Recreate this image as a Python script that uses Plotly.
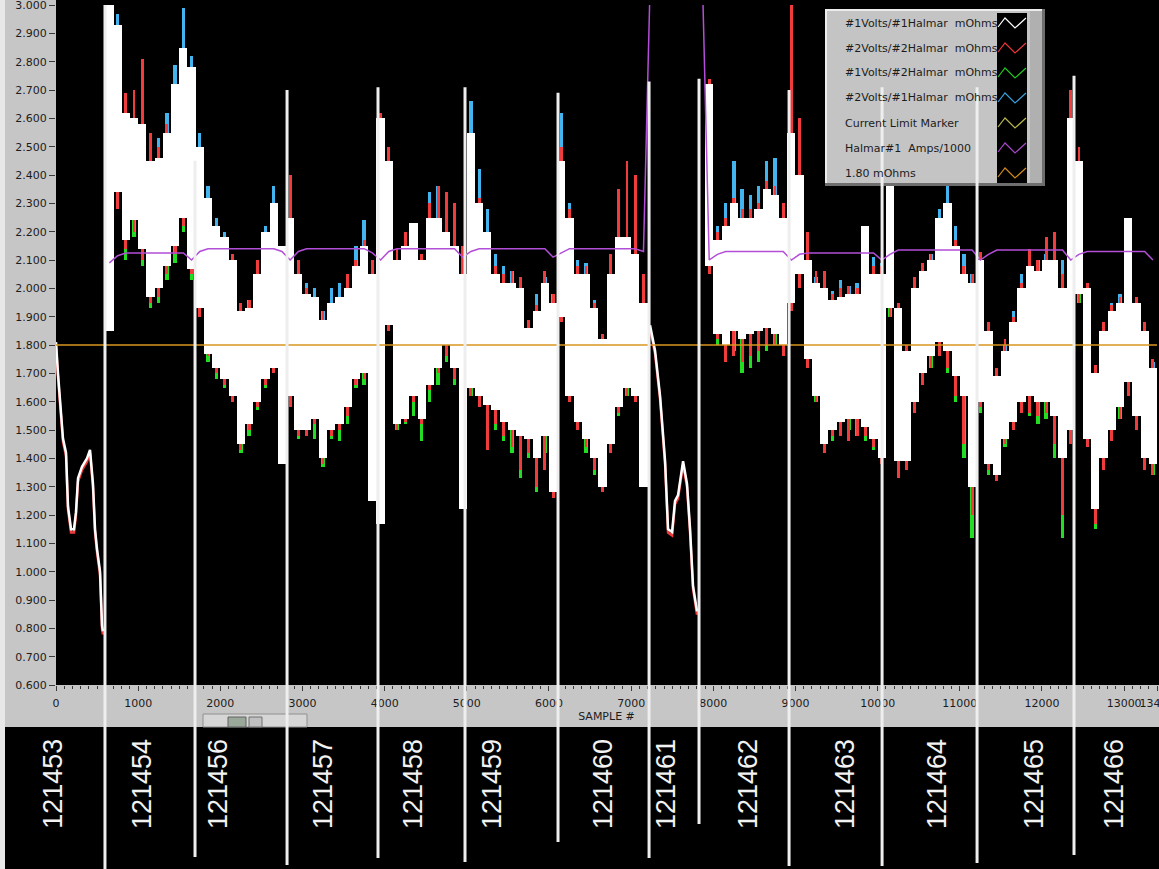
import plotly.graph_objects as go

# ---------------- data ----------------
# noisy parts: one low/high value per 100-sample bin (None = drawn as a plain line instead)
BIN = 100
N_BINS = 134
sample_centers = [BIN * i + BIN / 2 for i in range(N_BINS)]

_ = None
white_lo = [_, _, _, _, _, _, 1.85, 2.34, 2.17, 2.24, 2.14, 1.97, 2.00, 2.08, 2.15, 2.25, 2.07,
            1.93, 1.77, 1.72, 1.68, 1.62, 1.45, 1.52, 1.60, 1.68, 1.72, 1.38,
            1.62, 1.50, 1.50, 1.54, 1.40, 1.50, 1.52, 1.58, 1.68, 1.70, 1.25, 1.17,
            1.87, 1.52, 1.54, 1.62, 1.54, 1.66, 1.72, 1.80, 1.72, 1.22,
            1.65, 1.62, 1.59, 1.57, 1.53, 1.50, 1.48, 1.47, 1.40, 1.48, 1.28,
            1.90, 1.62, 1.53, 1.47, 1.40, 1.30, 1.45, 1.58, 1.65, 1.62, 1.30,
            _, _, _, _, _, _, _,
            2.08, 1.84, 1.80, 1.85, 1.82, 1.84, 1.85, 1.86, 1.84, 1.80, 1.95,
            2.05, 1.75, 1.62, 1.45, 1.50, 1.53, 1.54, 1.54, 1.51, 1.47, 1.40,
            1.93, 1.39, 1.39, 1.60, 1.70, 1.76, 1.81, 1.78, 1.69, 1.62, 1.30, 1.60,
            1.38, 1.34, 1.47, 1.53, 1.60, 1.62, 1.60, 1.60, 1.55, 1.40, 1.50,
            1.98, 1.47, 1.22, 1.40, 1.50, 1.58, 1.67, 1.55, 1.40, 1.38]
white_hi = [_, _, _, _, _, _, 3.00, 2.93, 2.62, 2.60, 2.58, 2.45, 2.46, 2.55, 2.72, 2.85, 2.78,
            2.50, 2.32, 2.22, 2.18, 2.10, 1.92, 1.93, 2.05, 2.20, 2.30, 2.15,
            2.25, 2.05, 1.98, 1.97, 1.89, 1.95, 1.97, 2.00, 2.08, 2.15, 2.05, 2.60,
            2.45, 2.10, 2.15, 2.23, 2.10, 2.25, 2.25, 2.20, 2.15, 2.05,
            2.55, 2.30, 2.20, 2.05, 2.02, 2.02, 2.00, 1.86, 1.92, 2.02, 1.95,
            2.45, 2.25, 2.05, 2.05, 1.93, 1.82, 2.05, 2.18, 2.18, 2.12, 1.95,
            _, _, _, _, _, _, _,
            2.72, 2.17, 2.22, 2.30, 2.25, 2.25, 2.28, 2.35, 2.33, 2.25, 2.55,
            2.40, 2.10, 2.02, 2.00, 1.96, 1.97, 1.98, 1.98, 2.22, 2.05, 2.05,
            2.37, 1.93, 1.78, 2.00, 2.06, 2.10, 2.25, 2.30, 2.15, 2.05, 2.02, 2.10,
            1.85, 1.69, 1.78, 1.88, 2.00, 2.08, 2.06, 2.10, 2.10, 2.00, 2.60,
            2.45, 2.00, 1.70, 1.85, 1.92, 1.95, 2.25, 1.95, 1.85, 1.72]
red_lo = [_, _, _, _, _, _, 1.85, 2.28, 2.14, 2.20, 2.10, 1.95, 1.97, 2.05, 2.12, 2.22, 2.05,
          1.90, 1.76, 1.70, 1.66, 1.60, 1.43, 1.50, 1.58, 1.66, 1.70, 1.38,
          1.58, 1.48, 1.48, 1.52, 1.38, 1.48, 1.50, 1.55, 1.66, 1.68, 1.25, 1.17,
          1.85, 1.50, 1.53, 1.60, 1.52, 1.64, 1.70, 1.76, 1.68, 1.22,
          1.62, 1.58, 1.43, 1.52, 1.48, 1.44, 1.36, 1.42, 1.30, 1.36, 1.26,
          1.88, 1.60, 1.50, 1.44, 1.36, 1.28, 1.42, 1.56, 1.62, 1.60, 1.30,
          _, _, _, _, _, _, _,
          2.05, 1.82, 1.74, 1.76, 1.74, 1.76, 1.78, 1.80, 1.80, 1.76, 1.92,
          2.00, 1.72, 1.60, 1.42, 1.48, 1.48, 1.46, 1.48, 1.48, 1.44, 1.38,
          1.90, 1.33, 1.36, 1.56, 1.66, 1.72, 1.76, 1.72, 1.62, 1.45, 1.20, 1.58,
          1.36, 1.32, 1.45, 1.50, 1.56, 1.56, 1.55, 1.56, 1.45, 1.20, 1.45,
          1.95, 1.44, 1.17, 1.36, 1.46, 1.54, 1.62, 1.50, 1.36, 1.34]
red_hi = [_, _, _, _, _, _, 3.00, 2.93, 2.69, 2.70, 2.81, 2.55, 2.50, 2.58, 2.72, 2.85, 2.78,
          2.50, 2.32, 2.22, 2.18, 2.12, 1.95, 1.96, 2.10, 2.15, 2.30, 2.12,
          2.40, 2.10, 2.00, 1.97, 1.92, 1.95, 1.97, 2.05, 2.10, 2.17, 2.10, 2.62,
          2.50, 2.14, 2.20, 2.23, 2.12, 2.30, 2.36, 2.34, 2.30, 2.15,
          2.55, 2.32, 2.20, 2.08, 2.05, 2.06, 2.04, 1.89, 1.94, 2.06, 1.98,
          2.50, 2.28, 2.08, 2.08, 1.95, 1.84, 2.12, 2.35, 2.45, 2.40, 2.05,
          _, _, _, _, _, _, _,
          2.74, 2.20, 2.25, 2.32, 2.28, 2.28, 2.30, 2.38, 2.36, 2.30, 3.00,
          2.60, 2.20, 2.06, 2.06, 1.98, 2.00, 2.01, 2.00, 2.05, 2.08, 2.08,
          2.40, 1.95, 1.80, 2.04, 2.09, 2.12, 2.20, 2.30, 2.17, 2.08, 2.05, 2.13,
          1.88, 1.72, 1.82, 1.90, 2.02, 2.14, 2.10, 2.18, 2.20, 2.05, 2.70,
          2.50, 2.02, 1.73, 1.88, 1.94, 1.97, 2.05, 1.97, 1.88, 1.75]
green_lo = [_, _, _, _, _, _, 1.85, 2.29, 2.10, 2.18, 2.08, 1.93, 1.95, 2.03, 2.09, 2.20, 2.03,
            1.90, 1.74, 1.68, 1.65, 1.60, 1.42, 1.48, 1.57, 1.65, 1.70, 1.38,
            1.60, 1.47, 1.48, 1.47, 1.37, 1.47, 1.46, 1.52, 1.65, 1.66, 1.25, 1.17,
            1.85, 1.50, 1.52, 1.55, 1.46, 1.60, 1.66, 1.74, 1.66, 1.22,
            1.62, 1.58, 1.45, 1.50, 1.46, 1.42, 1.33, 1.40, 1.28, 1.42, 1.28,
            1.88, 1.60, 1.50, 1.42, 1.34, 1.28, 1.42, 1.55, 1.62, 1.60, 1.30,
            _, _, _, _, _, _, _,
            2.05, 1.80, 1.76, 1.78, 1.70, 1.72, 1.74, 1.78, 1.80, 1.78, 1.92,
            2.00, 1.72, 1.60, 1.42, 1.46, 1.48, 1.50, 1.48, 1.46, 1.43, 1.38,
            1.90, 1.36, 1.36, 1.56, 1.66, 1.72, 1.76, 1.70, 1.60, 1.40, 1.12, 1.56,
            1.34, 1.34, 1.44, 1.50, 1.56, 1.55, 1.52, 1.54, 1.40, 1.12, 1.45,
            1.95, 1.44, 1.15, 1.36, 1.46, 1.54, 1.62, 1.50, 1.36, 1.34]
blue_hi = [_, _, _, _, _, _, 3.00, 2.97, 2.62, 2.60, 2.58, 2.45, 2.53, 2.62, 2.79, 2.99, 2.82,
           2.55, 2.36, 2.25, 2.20, 2.12, 1.92, 1.96, 2.08, 2.22, 2.36, 2.15,
           2.25, 2.05, 2.02, 2.00, 1.92, 2.00, 2.02, 2.02, 2.15, 2.24, 2.08, 2.60,
           2.45, 2.10, 2.15, 2.20, 2.12, 2.34, 2.36, 2.28, 2.22, 2.05,
           2.66, 2.42, 2.28, 2.12, 2.08, 2.06, 2.04, 1.89, 1.98, 2.04, 1.98,
           2.62, 2.30, 2.10, 2.09, 1.96, 1.84, 2.05, 2.18, 2.18, 2.12, 1.95,
           _, _, _, _, _, _, _,
           2.72, 2.22, 2.30, 2.45, 2.35, 2.33, 2.36, 2.45, 2.46, 2.28, 2.55,
           2.40, 2.12, 2.04, 2.02, 1.99, 2.03, 2.01, 2.02, 2.06, 2.11, 2.09,
           2.42, 1.95, 1.80, 2.03, 2.08, 2.12, 2.28, 2.38, 2.22, 2.12, 2.05, 2.12,
           1.86, 1.70, 1.80, 1.92, 2.05, 2.10, 2.10, 2.12, 2.12, 2.10, 2.60,
           2.45, 2.02, 1.72, 1.88, 1.95, 1.98, 2.05, 1.97, 1.86, 1.74]

# quiet parts (wafers 121453 and 121461): a single clean trace
quiet_a_samples = [0, 24, 85, 122, 146, 183, 219, 243, 268, 316, 377, 414, 450, 475, 499, 536, 560, 572]
quiet_a_values = [1.81, 1.70, 1.47, 1.42, 1.23, 1.15, 1.15, 1.21, 1.33, 1.37, 1.40, 1.43, 1.31, 1.15,
                  1.08, 1.00, 0.81, 0.79]
quiet_h_samples = [7230, 7291, 7352, 7413, 7449, 7498, 7534, 7571, 7632, 7680, 7717, 7753, 7802]
quiet_h_values = [1.87, 1.78, 1.62, 1.39, 1.15, 1.14, 1.25, 1.27, 1.39, 1.31, 1.15, 0.95, 0.86]

halmar_amps = [_, _, _, _, _, _, 2.09, 2.115, 2.125, 2.125, 2.125, 2.125, 2.125, 2.125, 2.125, 2.125, 2.10,
               2.13, 2.14, 2.14, 2.14, 2.14, 2.14, 2.14, 2.14, 2.14, 2.14, 2.13,
               2.10, 2.13, 2.14, 2.14, 2.14, 2.14, 2.14, 2.14, 2.14, 2.14, 2.125, 2.10,
               2.13, 2.14, 2.14, 2.14, 2.14, 2.14, 2.14, 2.14, 2.14, 2.11,
               2.13, 2.14, 2.14, 2.14, 2.14, 2.14, 2.14, 2.14, 2.14, 2.14, 2.11,
               2.125, 2.14, 2.14, 2.14, 2.14, 2.14, 2.14, 2.14, 2.14, 2.14, 2.13,
               3.30, 3.30, 3.30, 3.30, 3.30, 3.30, 3.30,
               2.10, 2.12, 2.13, 2.13, 2.13, 2.13, 2.13, 2.13, 2.13, 2.13, 2.10,
               2.12, 2.125, 2.125, 2.125, 2.125, 2.125, 2.125, 2.125, 2.125, 2.125, 2.10,
               2.12, 2.135, 2.135, 2.135, 2.135, 2.135, 2.135, 2.135, 2.135, 2.135, 2.135, 2.10,
               2.12, 2.135, 2.135, 2.135, 2.135, 2.135, 2.135, 2.135, 2.135, 2.135, 2.10,
               2.12, 2.13, 2.13, 2.13, 2.13, 2.13, 2.13, 2.13, 2.13, 2.10]
limit_mohms = 1.80
sample_max = 13400

x_tick_vals = [0, 1000, 2000, 3000, 4000, 5000, 6000, 7000, 8000, 9000, 10000, 11000, 12000, 13000, 13400]
x_tick_text = ["0", "1000", "2000", "3000", "4000", "5000", "6000", "7000", "8000", "9000", "10000",
               "11000", "12000", "13000", "13400"]
y_tick_vals = [0.6, 0.7, 0.8, 0.9, 1.0, 1.1, 1.2, 1.3, 1.4, 1.5, 1.6, 1.7, 1.8, 1.9, 2.0, 2.1, 2.2, 2.3,
               2.4, 2.5, 2.6, 2.7, 2.8, 2.9, 3.0]

# wafer boundaries (sample #), line tops (mOhms) and wafer IDs
separator_samples = [596, 1692, 2812, 3919, 4978, 6110, 7218, 7826, 8922, 10054, 11210, 12390]
separator_tops = [3.00, 2.45, 2.70, 2.71, 2.71, 2.69, 2.73, 2.74, 2.70, 2.71, 2.71, 2.75]
separator_bottom_px = [869, 857, 865, 858, 862, 842, 858, 824, 866, 866, 863, 855]
wafer_ids = ["121453", "121454", "121456", "121457", "121458", "121459", "121460",
             "121461", "121462", "121463", "121464", "121465", "121466"]
wafer_label_samples = [-40, 1047, 1972, 3250, 4345, 5307, 6658, 7425, 8423, 9603, 10723, 11904, 12877]

legend_names = ["#1Volts/#1Halmar\u00a0 mOhms", "#2Volts/#2Halmar\u00a0 mOhms", "#1Volts/#2Halmar\u00a0 mOhms",
                "#2Volts/#1Halmar\u00a0 mOhms", "Current Limit Marker", "Halmar#1\u00a0 Amps/1000", "1.80 mOhms"]
legend_colors = ["#ffffff", "#e83838", "#22c422", "#3aa0dc", "#b8b850", "#a848cc", "#d08a20"]

# ---------------- geometry ----------------
W, H = 1159, 869
L, R, T, B = 56, 2, 5, 184
PW, PH = W - L - R, H - T - B
Y0, Y1 = 0.6, 3.0


def px(xp):
    return (xp - L) / PW


def py(yp):
    return (H - B - yp) / PH


def yv(v):
    return (v - Y0) / (Y1 - Y0)


WHITE = "#ffffff"
RED = "#f03c3c"
GREEN = "#22dd22"
BLUE = "#44b4ee"
PURPLE = "#b24ed8"
ORANGE = "#d8961e"

fig = go.Figure()


def band(lo, hi, color, width, name):
    fig.add_trace(go.Bar(
        x=sample_centers, base=lo,
        y=[(h - l) if (h is not None and l is not None) else None for l, h in zip(lo, hi)],
        width=width, marker=dict(color=color, line=dict(width=0)),
        name=name, showlegend=False, hoverinfo="skip"))


band(white_lo, blue_hi, BLUE, 40, "#2Volts/#1Halmar mOhms")
band(green_lo, white_hi, GREEN, 40, "#1Volts/#2Halmar mOhms")
band(red_lo, red_hi, RED, 35, "#2Volts/#2Halmar mOhms")
band(white_lo, white_hi, WHITE, 100, "#1Volts/#1Halmar mOhms")

for xs, ys in ((quiet_a_samples, quiet_a_values), (quiet_h_samples, quiet_h_values)):
    fig.add_trace(go.Scatter(x=xs, y=[v - 0.012 for v in ys], mode="lines",
                             line=dict(color=RED, width=2.5), showlegend=False, hoverinfo="skip"))
    fig.add_trace(go.Scatter(x=xs, y=ys, mode="lines", line=dict(color=WHITE, width=2.5),
                             name="#1Volts/#1Halmar mOhms", showlegend=False))

fig.add_trace(go.Scatter(x=sample_centers, y=halmar_amps, mode="lines",
                         line=dict(color=PURPLE, width=1.5), name="Halmar#1 Amps/1000",
                         showlegend=False, connectgaps=False))
fig.add_trace(go.Scatter(x=[0, sample_max], y=[limit_mohms, limit_mohms], mode="lines",
                         line=dict(color=ORANGE, width=1.5), name="1.80 mOhms", showlegend=False))

shapes = []
# window / panel backgrounds
shapes.append(dict(type="rect", xref="paper", yref="paper", x0=px(0), x1=px(5), y0=py(H), y1=py(0),
                   fillcolor="#e8e8e8", line=dict(width=0), layer="below"))
shapes.append(dict(type="rect", xref="paper", yref="paper", x0=px(5), x1=px(L), y0=py(727), y1=py(0),
                   fillcolor="#c6c6c6", line=dict(width=0), layer="below"))
shapes.append(dict(type="rect", xref="paper", yref="paper", x0=px(5), x1=px(W), y0=py(727), y1=py(H - B),
                   fillcolor="#c6c6c6", line=dict(width=0), layer="below"))
# graph palette widget
shapes.append(dict(type="rect", xref="paper", yref="paper", x0=px(203), x1=px(307), y0=py(727), y1=py(714),
                   fillcolor="#d6d6d6", line=dict(color="#909090", width=1), layer="below"))
shapes.append(dict(type="rect", xref="paper", yref="paper", x0=px(228), x1=px(246), y0=py(727), y1=py(717),
                   fillcolor="#9aa89a", line=dict(color="#606060", width=1), layer="below"))
shapes.append(dict(type="rect", xref="paper", yref="paper", x0=px(249), x1=px(262), y0=py(727), y1=py(717),
                   fillcolor="#c0c0c0", line=dict(color="#707070", width=1), layer="below"))

# legend box (bevelled)
shapes.append(dict(type="rect", xref="paper", yref="paper", x0=px(825), x1=px(1045), y0=py(186), y1=py(9),
                   fillcolor="#6e6e6e", line=dict(width=0), layer="above"))
shapes.append(dict(type="rect", xref="paper", yref="paper", x0=px(825), x1=px(1042), y0=py(183), y1=py(9),
                   fillcolor="#ececec", line=dict(width=0), layer="above"))
shapes.append(dict(type="rect", xref="paper", yref="paper", x0=px(827), x1=px(1042), y0=py(183), y1=py(11),
                   fillcolor="#c4c4c4", line=dict(width=0), layer="above"))
shapes.append(dict(type="rect", xref="paper", yref="paper", x0=px(1030), x1=px(1042), y0=py(183), y1=py(11),
                   fillcolor="#b0b0b0", line=dict(width=0), layer="above"))
shapes.append(dict(type="rect", xref="paper", yref="paper", x0=px(997), x1=px(1027), y0=py(183), y1=py(13),
                   fillcolor="#000000", line=dict(width=0), layer="above"))
row_y = [23, 48, 73, 98, 123, 148, 173]
for yc, col in zip(row_y, legend_colors):
    path = (f"M {px(998)},{py(yc + 4)} L {px(1005)},{py(yc - 5)} "
            f"L {px(1015)},{py(yc + 5)} L {px(1026)},{py(yc - 5)}")
    shapes.append(dict(type="path", xref="paper", yref="paper", path=path,
                       line=dict(color=col, width=1.2), layer="above"))

# wafer separators
for s, top, bot in zip(separator_samples, separator_tops, separator_bottom_px):
    shapes.append(dict(type="line", xref="x", yref="paper", x0=s, x1=s, y0=py(bot), y1=yv(top),
                       line=dict(color="#eeeeee", width=3), layer="above"))

annotations = []
for name, yc in zip(legend_names, row_y):
    annotations.append(dict(text=name, xref="paper", yref="paper", x=px(843), y=py(yc),
                            xanchor="left", yanchor="middle", showarrow=False,
                            font=dict(family="DejaVu Sans", size=11, color="#1c1c1c")))
for wid, s in zip(wafer_ids, wafer_label_samples):
    annotations.append(dict(text=wid, xref="paper", yref="paper", x=s / sample_max, y=py(784),
                            xanchor="center", yanchor="middle", textangle=-90, showarrow=False,
                            font=dict(family="Liberation Sans, Arial", size=27, color="#f2f2f2")))

fig.update_layout(
    width=W, height=H, margin=dict(l=L, r=R, t=T, b=B, pad=0, autoexpand=False),
    paper_bgcolor="#000000", plot_bgcolor="#000000",
    barmode="overlay", bargap=0, showlegend=False,
    shapes=shapes, annotations=annotations,
    font=dict(family="DejaVu Sans", size=11, color="#1c1c1c"),
)
fig.update_xaxes(range=[0, sample_max], tickmode="array", tickvals=x_tick_vals, ticktext=x_tick_text,
                 ticks="outside", ticklen=5, tickwidth=1, tickcolor="#3a3a3a",
                 ticklabeloverflow="allow", ticklabelstandoff=3, tickangle=0, automargin=False,
                 tickfont=dict(family="DejaVu Sans", size=11, color="#1c1c1c"),
                 minor=dict(dtick=100, tick0=0, ticks="outside", ticklen=3, tickcolor="#3a3a3a", showgrid=False),
                 showgrid=False, zeroline=False, showline=False,
                 title=dict(text="SAMPLE #", font=dict(family="DejaVu Sans", size=11, color="#1c1c1c"), standoff=3))
fig.update_yaxes(range=[Y0, Y1], tickmode="array", tickvals=y_tick_vals, tickformat=".3f",
                 ticks="outside", ticklen=6, tickwidth=1, tickcolor="#3a3a3a",
                 ticklabeloverflow="allow", automargin=False,
                 tickfont=dict(family="DejaVu Sans", size=11, color="#1c1c1c"),
                 showgrid=False, zeroline=False, showline=False)

fig.write_html("out.html", config={"displayModeBar": False},
               post_script="document.body.style.margin='0px';document.body.style.overflow='hidden';")
